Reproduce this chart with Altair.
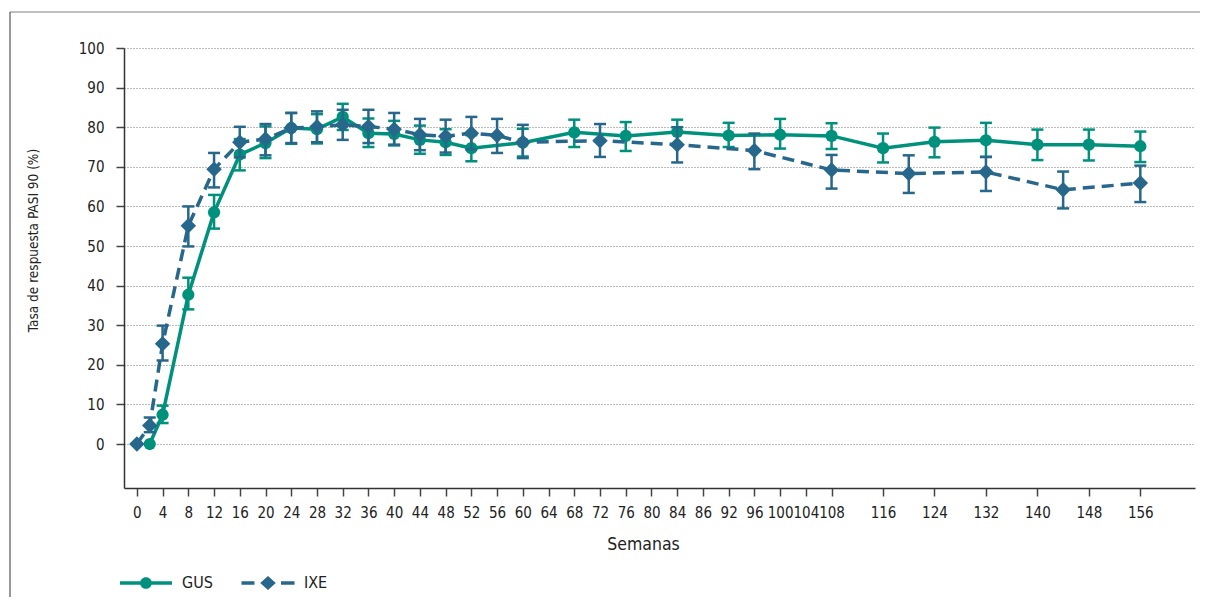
import altair as alt
import pandas as pd

FONT = "DejaVu Sans Condensed, Liberation Sans Narrow, sans-serif"
GUS_COLOR = "#00917C"
IXE_COLOR = "#27678B"
TEXT_COLOR = "#222222"

series = ["GUS", "IXE"]

gus_weeks = [2, 4, 8, 12, 16, 20, 24, 28, 32, 36, 40, 44, 48, 52, 60, 68, 76, 84, 92, 100, 108, 116, 124, 132, 140, 148, 156]
gus_values = [0.0, 7.4, 37.7, 58.5, 73.1, 76.0, 79.8, 79.5, 82.6, 78.5, 78.3, 76.8, 76.2, 74.7, 76.1, 78.7, 77.8, 78.8, 77.9, 78.1, 77.8, 74.7, 76.3, 76.7, 75.6, 75.6, 75.2]
gus_lower = [None, 5.3, 34.0, 54.4, 69.1, 72.2, 75.8, 75.9, 79.3, 75.0, 75.4, 73.3, 73.0, 71.4, 72.6, 75.0, 74.0, 75.5, 75.0, 74.6, 74.5, 71.1, 72.4, 72.5, 71.7, 71.6, 71.2]
gus_upper = [None, 9.7, 42.0, 62.9, 77.0, 80.2, 83.6, 83.3, 85.9, 82.2, 81.6, 80.4, 79.5, 78.0, 79.6, 81.9, 81.3, 81.9, 81.1, 82.1, 81.0, 78.4, 79.9, 81.1, 79.4, 79.4, 78.9]

ixe_weeks = [0, 2, 4, 8, 12, 16, 20, 24, 28, 32, 36, 40, 44, 48, 52, 56, 60, 72, 84, 96, 108, 120, 132, 144, 156]
ixe_values = [0.0, 4.7, 25.3, 55.1, 69.4, 76.2, 77.0, 79.8, 80.1, 80.6, 80.2, 79.5, 78.1, 77.7, 78.5, 77.9, 76.2, 76.6, 75.6, 74.1, 69.2, 68.3, 68.7, 64.2, 65.9]
ixe_lower = [None, 3.0, 21.1, 49.9, 64.8, 72.4, 72.9, 76.0, 76.2, 76.8, 76.0, 75.6, 74.2, 73.6, 74.4, 73.5, 72.2, 72.5, 71.1, 69.4, 64.5, 63.4, 63.9, 59.5, 61.1]
ixe_upper = [None, 6.7, 29.9, 60.0, 73.5, 80.1, 80.8, 83.6, 84.0, 84.4, 84.4, 83.6, 82.1, 81.9, 82.6, 82.1, 80.6, 80.8, 80.0, 78.4, 73.0, 72.9, 72.5, 68.8, 70.3]

x_ticks = list(range(0, 112, 4)) + [116, 124, 132, 140, 148, 156]
y_ticks = list(range(0, 101, 10))

gus_df = pd.DataFrame({"week": gus_weeks, "value": gus_values, "lo": gus_lower, "hi": gus_upper})
ixe_df = pd.DataFrame({"week": ixe_weeks, "value": ixe_values, "lo": ixe_lower, "hi": ixe_upper})
gus_err = gus_df.dropna()
ixe_err = ixe_df.dropna()

x_scale = alt.Scale(domain=[-2, 164.5], nice=False, zero=False)
y_scale = alt.Scale(domain=[-11.1, 100], nice=False, zero=False)

x_axis = alt.Axis(
    values=x_ticks,
    labelExpr="datum.value == 88 ? '86' : datum.label",
    labelOverlap=False, labelFlush=False, labelBound=False,
    grid=False, tickSize=8, tickWidth=1.5, tickColor="#444444",
    domainColor="#333333", domainWidth=1.5,
    labelFontSize=15, labelColor=TEXT_COLOR, labelPadding=9,
    title="Semanas", titleFontSize=17.5, titleFontWeight="normal", titleColor=TEXT_COLOR,
    titleX=519, titleY=61, titleAlign="center", titleBaseline="alphabetic",
)
y_axis = alt.Axis(
    values=y_ticks, grid=True, gridDash=[1, 2], gridColor="#777777", gridWidth=1,
    tickSize=8, tickWidth=1.5, tickColor="#444444",
    domainColor="#333333", domainWidth=1.5,
    labelFontSize=15, labelColor=TEXT_COLOR, labelPadding=12,
    title="Tasa de respuesta PASI 90 (%)", titleFontSize=13.5, titleFontWeight="normal",
    titleColor=TEXT_COLOR, titleX=-87, titleY=192, titleAngle=270,
    titleAlign="center", titleBaseline="alphabetic",
)


def X():
    return alt.X("week:Q", scale=x_scale, axis=x_axis)


def Y(field):
    return alt.Y(field, scale=y_scale, axis=y_axis, title="Tasa de respuesta PASI 90 (%)")


def series_layers(df, err_df, color, shape, size, dash):
    err = alt.Chart(err_df).mark_rule(color=color, strokeWidth=2.5).encode(
        x=X(), y=Y("lo:Q"), y2="hi:Q")
    caps = alt.Chart(err_df).transform_fold(["lo", "hi"], as_=["k", "v"]).mark_tick(
        color=color, orient="horizontal", size=12, thickness=2.5, opacity=1).encode(
        x=X(), y=Y("v:Q"))
    line_kw = dict(color=color, strokeWidth=3.5)
    if dash:
        line_kw["strokeDash"] = dash
    line = alt.Chart(df).mark_line(**line_kw).encode(x=X(), y=Y("value:Q"))
    pts = alt.Chart(df).mark_point(shape=shape, filled=True, size=size, opacity=1, color=color).encode(
        x=X(), y=Y("value:Q"))
    return [err, caps, line, pts]


frame_df = pd.DataFrame({"a": [0]})
frame_top = alt.Chart(frame_df).mark_rule(color="#808080", strokeWidth=1).encode(
    x=alt.value(-114), x2=alt.value(1080), y=alt.value(-36))
frame_left = alt.Chart(frame_df).mark_rule(color="#333333", strokeWidth=1).encode(
    x=alt.value(-114), y=alt.value(-36), y2=alt.value(560))

gus_path = ("M-1,-0.065L1,-0.065L1,0.065L-1,0.065Z "
            "M-0.225,0A0.225,0.225,0,0,1,0.225,0A0.225,0.225,0,0,1,-0.225,0Z")
ixe_path = ("M-1.02,-0.065L-0.52,-0.065L-0.52,0.065L-1.02,0.065Z "
            "M0.5,-0.065L1.02,-0.065L1.02,0.065L0.5,0.065Z "
            "M-0.3,0L0,-0.27L0.3,0L0,0.27Z")

legend_df = pd.DataFrame({"serie": series})
legend_spec = alt.Legend(
    title=None, orient="none", legendX=-4, legendY=509, direction="horizontal", columns=2,
    symbolSize=2704, symbolStrokeWidth=0, symbolOpacity=1,
    labelFontSize=16, labelColor=TEXT_COLOR, labelOffset=10, columnPadding=28,
)
legend_layer = alt.Chart(legend_df).mark_point(filled=True, opacity=1).encode(
    x=alt.value(-3000), y=alt.value(-3000),
    color=alt.Color("serie:N", scale=alt.Scale(domain=series, range=[GUS_COLOR, IXE_COLOR]), legend=legend_spec),
    shape=alt.Shape("serie:N", scale=alt.Scale(domain=series, range=[gus_path, ixe_path]), legend=legend_spec),
)

layers = [frame_top, frame_left]
layers += series_layers(gus_df, gus_err, GUS_COLOR, "circle", 150, None)
layers += series_layers(ixe_df, ixe_err, IXE_COLOR, "diamond", 240, [12, 7])
layers.append(legend_layer)

chart = alt.layer(*layers).properties(
    width=1071, height=440,
    padding={"left": 116, "top": 40, "right": 5, "bottom": 109},
    autosize=alt.AutoSizeParams(type="none"),
).configure(font=FONT).configure_view(stroke=None)

chart.save("out.html", embed_options={"renderer": "svg", "actions": False})
